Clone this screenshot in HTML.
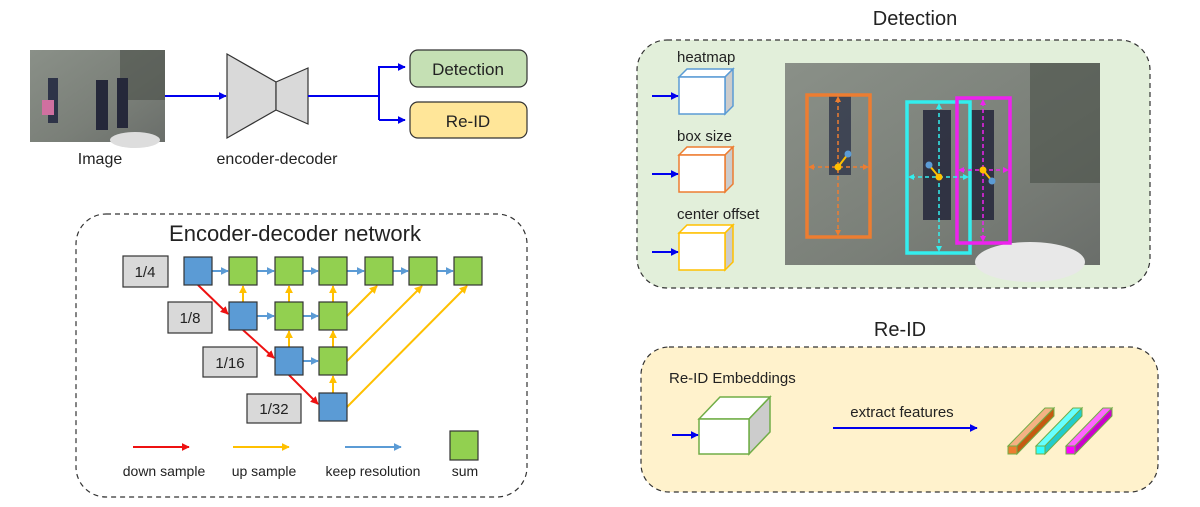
<!DOCTYPE html>
<html><head><meta charset="utf-8"><style>
html,body{margin:0;padding:0;background:#fff;width:1200px;height:507px;overflow:hidden}
svg text{font-family:"Liberation Sans",sans-serif;fill:#222}
</style></head><body>
<svg width="1200" height="507" viewBox="0 0 1200 507" xmlns="http://www.w3.org/2000/svg">
<defs>
<marker id="ab" viewBox="0 0 10 10" refX="9" refY="5" markerWidth="4" markerHeight="4" orient="auto"><path d="M0,0L10,5L0,10z" fill="#0000ee"/></marker>
<marker id="ar" viewBox="0 0 10 10" refX="9" refY="5" markerWidth="4" markerHeight="4" orient="auto"><path d="M0,0L10,5L0,10z" fill="#ee1111"/></marker>
<marker id="ay" viewBox="0 0 10 10" refX="9" refY="5" markerWidth="4" markerHeight="4" orient="auto"><path d="M0,0L10,5L0,10z" fill="#ffc000"/></marker>
<marker id="al" viewBox="0 0 10 10" refX="9" refY="5" markerWidth="4" markerHeight="4" orient="auto"><path d="M0,0L10,5L0,10z" fill="#5b9bd5"/></marker>
<marker id="mo" viewBox="0 0 10 10" refX="5" refY="5" markerWidth="4" markerHeight="4" orient="auto-start-reverse"><path d="M0,0L10,5L0,10z" fill="#ed7d31"/></marker>
<marker id="mc" viewBox="0 0 10 10" refX="5" refY="5" markerWidth="4" markerHeight="4" orient="auto-start-reverse"><path d="M0,0L10,5L0,10z" fill="#33eeee"/></marker>
<marker id="mm" viewBox="0 0 10 10" refX="5" refY="5" markerWidth="4" markerHeight="4" orient="auto-start-reverse"><path d="M0,0L10,5L0,10z" fill="#ee22ee"/></marker>
<linearGradient id="ph" x1="0" y1="0" x2="1" y2="1"><stop offset="0" stop-color="#8a9088"/><stop offset="0.6" stop-color="#7a7f78"/><stop offset="1" stop-color="#6a6e6a"/></linearGradient>
</defs>

<!-- top-left pipeline -->
<rect x="30" y="50" width="135" height="92" fill="url(#ph)"/>
<rect x="120" y="50" width="45" height="50" fill="#4a4f48" opacity="0.6"/>
<rect x="48" y="78" width="10" height="45" fill="#2e3448"/>
<rect x="42" y="100" width="12" height="15" fill="#d070a0"/>
<rect x="96" y="80" width="12" height="50" fill="#25283a"/>
<rect x="117" y="78" width="11" height="50" fill="#25283a"/>
<ellipse cx="135" cy="140" rx="25" ry="8" fill="#ddd"/>
<text x="100" y="164" font-size="16" text-anchor="middle">Image</text>
<line x1="165" y1="96" x2="226" y2="96" stroke="#0000ee" stroke-width="2" marker-end="url(#ab)"/>
<polygon points="227,54 276,82 276,110 227,138" fill="#d9d9d9" stroke="#333" stroke-width="1.2"/>
<polygon points="276,82 308,68 308,124 276,110" fill="#d9d9d9" stroke="#333" stroke-width="1.2"/>
<text x="277" y="164" font-size="16" text-anchor="middle">encoder-decoder</text>
<polyline points="308,96 379,96" fill="none" stroke="#0000ee" stroke-width="2"/>
<polyline points="379,120 379,67 405,67" fill="none" stroke="#0000ee" stroke-width="2" marker-end="url(#ab)"/>
<line x1="379" y1="120" x2="405" y2="120" stroke="#0000ee" stroke-width="2" marker-end="url(#ab)"/>
<rect x="410" y="50" width="117" height="37" rx="8" fill="#c5e0b4" stroke="#333" stroke-width="1.2"/>
<text x="468" y="75" font-size="17" text-anchor="middle">Detection</text>
<rect x="410" y="102" width="117" height="36" rx="8" fill="#ffe699" stroke="#333" stroke-width="1.2"/>
<text x="468" y="127" font-size="17" text-anchor="middle">Re-ID</text>

<!-- encoder-decoder network -->
<rect x="76" y="214" width="451" height="283" rx="30" fill="none" stroke="#333" stroke-width="1.2" stroke-dasharray="5,4"/>
<text x="295" y="241" font-size="22" text-anchor="middle">Encoder-decoder network</text>
<g font-size="15" text-anchor="middle">
<rect x="123" y="256" width="45" height="31" fill="#d9d9d9" stroke="#333" stroke-width="1.2"/><text x="145" y="277">1/4</text>
<rect x="168" y="302" width="44" height="31" fill="#d9d9d9" stroke="#333" stroke-width="1.2"/><text x="190" y="323">1/8</text>
<rect x="203" y="347" width="54" height="30" fill="#d9d9d9" stroke="#333" stroke-width="1.2"/><text x="230" y="368">1/16</text>
<rect x="247" y="394" width="54" height="29" fill="#d9d9d9" stroke="#333" stroke-width="1.2"/><text x="274" y="414">1/32</text>
</g>
<g stroke-width="2">
<!-- keep res arrows -->
<g stroke="#5b9bd5" marker-end="url(#al)">
<line x1="212" y1="271" x2="228" y2="271"/><line x1="257" y1="271" x2="274" y2="271"/><line x1="303" y1="271" x2="318" y2="271"/><line x1="347" y1="271" x2="364" y2="271"/><line x1="393" y1="271" x2="408" y2="271"/><line x1="437" y1="271" x2="453" y2="271"/>
<line x1="257" y1="316" x2="274" y2="316"/><line x1="303" y1="316" x2="318" y2="316"/>
<line x1="303" y1="361" x2="318" y2="361"/>
</g>
<g stroke="#ee1111" marker-end="url(#ar)">
<line x1="198" y1="285" x2="228" y2="314"/><line x1="243" y1="330" x2="274" y2="358"/><line x1="289" y1="375" x2="318" y2="404"/>
</g>
<g stroke="#ffc000" marker-end="url(#ay)">
<line x1="243" y1="302" x2="243" y2="286"/><line x1="289" y1="302" x2="289" y2="286"/><line x1="333" y1="302" x2="333" y2="286"/>
<line x1="289" y1="347" x2="289" y2="331"/><line x1="333" y1="347" x2="333" y2="331"/>
<line x1="333" y1="393" x2="333" y2="376"/>
<line x1="347" y1="316" x2="377" y2="286"/><line x1="347" y1="361" x2="422" y2="286"/><line x1="347" y1="407" x2="467" y2="286"/>
</g>
</g>
<g stroke="#333" stroke-width="1.2">
<rect x="184" y="257" width="28" height="28" fill="#5b9bd5"/>
<rect x="229" y="257" width="28" height="28" fill="#92d050"/><rect x="275" y="257" width="28" height="28" fill="#92d050"/><rect x="319" y="257" width="28" height="28" fill="#92d050"/><rect x="365" y="257" width="28" height="28" fill="#92d050"/><rect x="409" y="257" width="28" height="28" fill="#92d050"/><rect x="454" y="257" width="28" height="28" fill="#92d050"/>
<rect x="229" y="302" width="28" height="28" fill="#5b9bd5"/><rect x="275" y="302" width="28" height="28" fill="#92d050"/><rect x="319" y="302" width="28" height="28" fill="#92d050"/>
<rect x="275" y="347" width="28" height="28" fill="#5b9bd5"/><rect x="319" y="347" width="28" height="28" fill="#92d050"/>
<rect x="319" y="393" width="28" height="28" fill="#5b9bd5"/>
<rect x="450" y="431" width="28" height="29" fill="#92d050"/>
</g>
<line x1="133" y1="447" x2="189" y2="447" stroke="#ee1111" stroke-width="2" marker-end="url(#ar)"/>
<line x1="233" y1="447" x2="289" y2="447" stroke="#ffc000" stroke-width="2" marker-end="url(#ay)"/>
<line x1="345" y1="447" x2="401" y2="447" stroke="#5b9bd5" stroke-width="2" marker-end="url(#al)"/>
<g font-size="14" text-anchor="middle"><text x="164" y="476">down sample</text><text x="264" y="476">up sample</text><text x="373" y="476">keep resolution</text><text x="465" y="476">sum</text></g>

<!-- Detection -->
<text x="915" y="25" font-size="20" text-anchor="middle">Detection</text>
<rect x="637" y="40" width="513" height="248" rx="30" fill="#e2efda" stroke="#333" stroke-width="1.2" stroke-dasharray="5,4"/>
<text x="677" y="62" font-size="15">heatmap</text>
<text x="677" y="141" font-size="15">box size</text>
<text x="677" y="219" font-size="15">center offset</text>
<g stroke-width="1.5">
<polygon points="679,77 687,69 733,69 725,77" fill="#fff" stroke="#5b9bd5"/><polygon points="725,77 733,69 733,106 725,114" fill="#ccc" stroke="#5b9bd5"/><rect x="679" y="77" width="46" height="37" fill="#fff" stroke="#5b9bd5"/>
<polygon points="679,155 687,147 733,147 725,155" fill="#fff" stroke="#ed7d31"/><polygon points="725,155 733,147 733,184 725,192" fill="#ccc" stroke="#ed7d31"/><rect x="679" y="155" width="46" height="37" fill="#fff" stroke="#ed7d31"/>
<polygon points="679,233 687,225 733,225 725,233" fill="#fff" stroke="#ffc000"/><polygon points="725,233 733,225 733,262 725,270" fill="#ccc" stroke="#ffc000"/><rect x="679" y="233" width="46" height="37" fill="#fff" stroke="#ffc000"/>
</g>
<g stroke="#0000ee" stroke-width="2" marker-end="url(#ab)"><line x1="652" y1="96" x2="678" y2="96"/><line x1="652" y1="174" x2="678" y2="174"/><line x1="652" y1="252" x2="678" y2="252"/></g>
<rect x="785" y="63" width="315" height="202" fill="url(#ph)"/>
<rect x="1030" y="63" width="70" height="120" fill="#4a5048" opacity="0.6"/>
<ellipse cx="1030" cy="262" rx="55" ry="20" fill="#e8e8e8"/>
<rect x="829" y="95" width="22" height="80" fill="#2e3448" opacity="0.8"/>
<rect x="923" y="110" width="28" height="110" fill="#23263a" opacity="0.85"/>
<rect x="970" y="110" width="24" height="110" fill="#23263a" opacity="0.85"/>
<g fill="none" stroke-width="3.5">
<rect x="807" y="95" width="63" height="142" stroke="#ed7d31"/>
<rect x="907" y="102" width="63" height="151" stroke="#33eeee"/>
<rect x="957" y="98" width="53" height="145" stroke="#ee22ee"/>
</g>
<g fill="none" stroke-width="1.5" stroke-dasharray="4,3">
<line x1="838" y1="99" x2="838" y2="233" stroke="#ed7d31" marker-start="url(#mo)" marker-end="url(#mo)"/>
<line x1="811" y1="167" x2="866" y2="167" stroke="#ed7d31" marker-start="url(#mo)" marker-end="url(#mo)"/>
<line x1="939" y1="106" x2="939" y2="249" stroke="#33eeee" marker-start="url(#mc)" marker-end="url(#mc)"/>
<line x1="911" y1="177" x2="966" y2="177" stroke="#33eeee" marker-start="url(#mc)" marker-end="url(#mc)"/>
<line x1="983" y1="102" x2="983" y2="239" stroke="#ee22ee" marker-start="url(#mm)" marker-end="url(#mm)"/>
<line x1="961" y1="170" x2="1006" y2="170" stroke="#ee22ee" marker-start="url(#mm)" marker-end="url(#mm)"/>
</g>
<g stroke="#ffc000" stroke-width="2"><line x1="838" y1="167" x2="848" y2="154"/><line x1="939" y1="177" x2="929" y2="165"/><line x1="983" y1="170" x2="992" y2="181"/></g>
<g fill="#5b9bd5"><circle cx="848" cy="154" r="3.5"/><circle cx="929" cy="165" r="3.5"/><circle cx="992" cy="181" r="3.5"/></g>
<g fill="#ffc000"><circle cx="838" cy="167" r="3.5"/><circle cx="939" cy="177" r="3.5"/><circle cx="983" cy="170" r="3.5"/></g>

<!-- Re-ID -->
<text x="900" y="336" font-size="20" text-anchor="middle">Re-ID</text>
<rect x="641" y="347" width="517" height="145" rx="28" fill="#fff2cc" stroke="#333" stroke-width="1.2" stroke-dasharray="5,4"/>
<text x="669" y="383" font-size="15">Re-ID Embeddings</text>
<g stroke="#70ad47" stroke-width="1.5">
<polygon points="699,419 720,397 770,397 749,419" fill="#fff"/>
<polygon points="749,419 770,397 770,432 749,454" fill="#ccc"/>
<rect x="699" y="419" width="50" height="35" fill="#fff"/>
</g>
<line x1="672" y1="435" x2="698" y2="435" stroke="#0000ee" stroke-width="2" marker-end="url(#ab)"/>
<text x="902" y="417" font-size="15" text-anchor="middle">extract features</text>
<line x1="833" y1="428" x2="977" y2="428" stroke="#0000ee" stroke-width="2" marker-end="url(#ab)"/>
<g stroke="#70ad47" stroke-width="1">
<polygon points="1008,446 1045,408 1054,408 1017,446" fill="#f4b183"/><polygon points="1017,446 1054,408 1054,416 1017,454" fill="#c55a11"/><rect x="1008" y="446" width="9" height="8" fill="#ed7d31"/>
<polygon points="1036,446 1073,408 1082,408 1045,446" fill="#66ffff"/><polygon points="1045,446 1082,408 1082,416 1045,454" fill="#22cccc"/><rect x="1036" y="446" width="9" height="8" fill="#33ffff"/>
<polygon points="1066,446 1103,408 1112,408 1075,446" fill="#ff66ff"/><polygon points="1075,446 1112,408 1112,416 1075,454" fill="#cc00cc"/><rect x="1066" y="446" width="9" height="8" fill="#ff00ff"/>
</g>
</svg>
</body></html>
